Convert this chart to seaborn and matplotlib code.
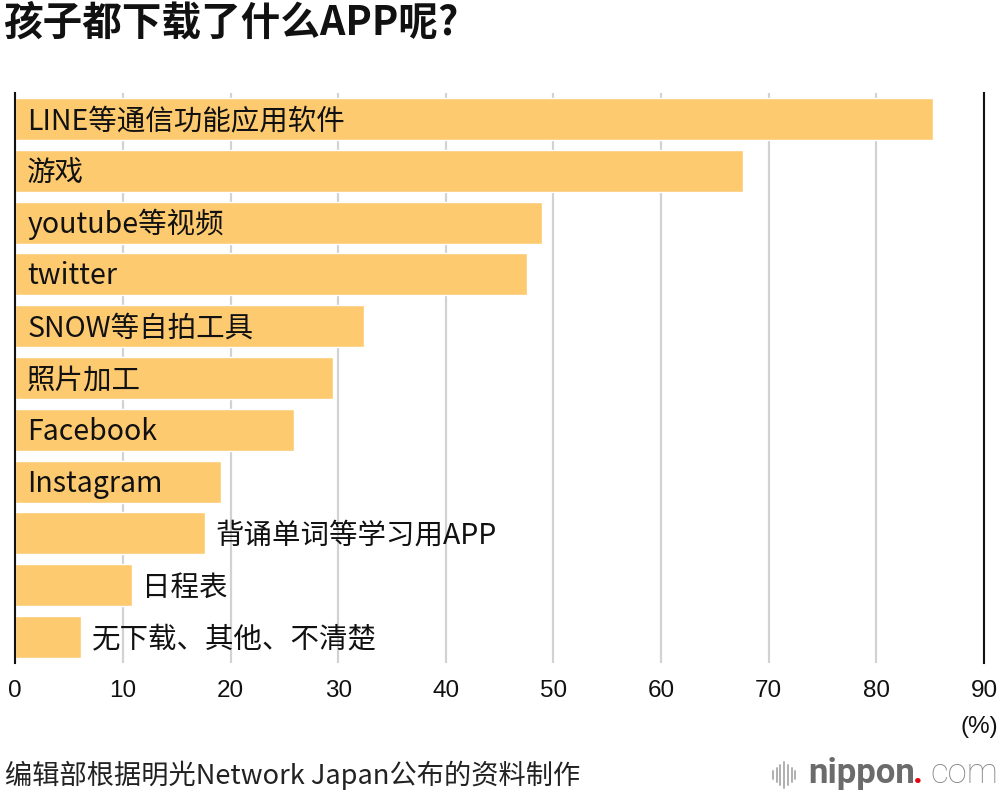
import numpy as np
import pandas as pd
import seaborn as sns
import matplotlib.pyplot as plt
from matplotlib.lines import Line2D

# 数据
kategorien = [
    "LINE等通信功能应用软件",
    "游戏",
    "youtube等视频",
    "twitter",
    "SNOW等自拍工具",
    "照片加工",
    "Facebook",
    "Instagram",
    "背诵单词等学习用APP",
    "日程表",
    "无下载、其他、不清楚",
]
werte = [85.3, 67.6, 48.9, 47.5, 32.4, 29.5, 25.9, 19.1, 17.6, 10.8, 6.1]
x_ticks = [0, 10, 20, 30, 40, 50, 60, 70, 80, 90]

df = pd.DataFrame({"app": kategorien, "anteil": werte})

sns.set_theme(style="white")
plt.rcParams["font.family"] = ["Noto Sans CJK SC", "DejaVu Sans"]

fig = plt.figure(figsize=(10, 7.96), dpi=100)
ax = fig.add_axes([0.0153, 0.1671, 0.9687, 0.7161])

sns.barplot(data=df, x="anteil", y="app", orient="h", color="#fdca70",
            saturation=1, width=0.81, ax=ax, zorder=2)

ax.set_xlim(0, 90)
ax.set_ylim(10.5, -0.5)
ax.set_xticks(x_ticks)
ax.set_xticklabels([str(t) for t in x_ticks], fontsize=17.5,
                   family=["Liberation Sans", "DejaVu Sans"])
ax.tick_params(axis="x", length=0, pad=12, labelcolor="#111111")
ax.set_yticks([])
ax.set_xlabel("")
ax.set_ylabel("")

ax.xaxis.grid(True, color="#d2d2d2", lw=1.6, zorder=0)
ax.set_axisbelow(True)
for s in ["top", "bottom"]:
    ax.spines[s].set_visible(False)
for s in ["left", "right"]:
    ax.spines[s].set_color("#111111")
    ax.spines[s].set_linewidth(1.5)
    ax.spines[s].set_zorder(3)

# Beschriftung innen oder außen
for i, (name, v) in enumerate(zip(kategorien, werte)):
    x0 = 1.1 if v >= 18 else v + 1.0
    ax.text(x0, i + 0.04, name, va="center", ha="left", fontsize=20.5,
            fontweight="medium", color="#111111", zorder=4)

# Titel und Fußzeile
fig.text(0.004, 0.971, "孩子都下载了什么APP呢?", fontsize=28.5, fontweight="heavy",
         va="center", ha="left", color="#111111")
fig.text(0.998, 0.087, "(%)", fontsize=17.5, va="center", ha="right",
         family=["Liberation Sans", "DejaVu Sans"], color="#111111")
fig.text(0.005, 0.026, "编辑部根据明光Network Japan公布的资料制作", fontsize=19.6,
         va="center", ha="left", color="#222222")

# Logo
fig.text(0.808, 0.016, "nippon", fontsize=25, fontweight="bold", color="#6b6b6b",
         family=["Roboto", "DejaVu Sans"], va="baseline", ha="left")
fig.text(0.913, 0.016, ".", fontsize=25, fontweight="bold", color="#e60012",
         family=["Roboto", "DejaVu Sans"], va="baseline", ha="left")
fig.text(0.998, 0.016, "com", fontsize=25, fontweight="light", color="#8a8a8a",
         family=["Roboto", "DejaVu Sans"], va="baseline", ha="right")
for k, h in enumerate([8, 14, 20, 26, 20, 14, 8]):
    xk = 0.773 + k * 0.0037
    fig.add_artist(Line2D([xk, xk], [0.026 - h / 2 / 796, 0.026 + h / 2 / 796],
                          color="#b0b0b0", lw=1.4, transform=fig.transFigure))

fig.savefig("out.png", dpi=100)
